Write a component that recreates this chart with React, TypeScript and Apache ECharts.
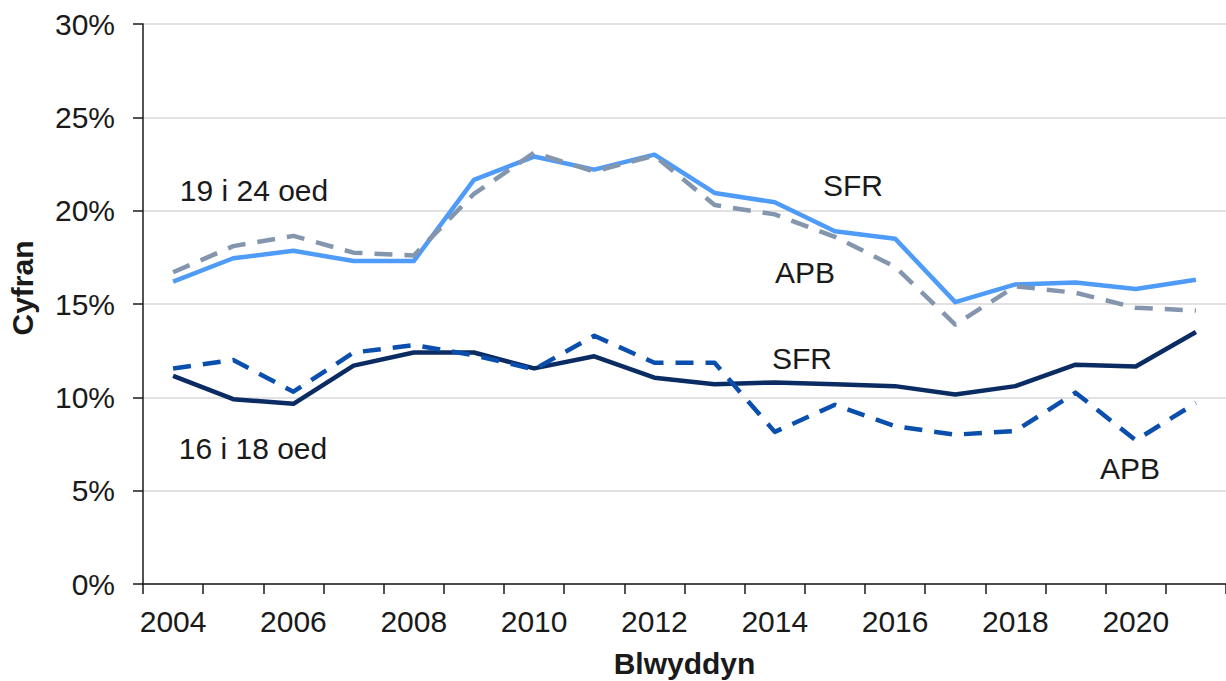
import React, { useEffect, useRef } from "react";
import * as echarts from "echarts";

const years = ["2004","2005","2006","2007","2008","2009","2010","2011","2012","2013","2014","2015","2016","2017","2018","2019","2020","2021"];
const sfr1924 = [16.2, 17.45, 17.85, 17.3, 17.3, 21.65, 22.9, 22.2, 23.0, 20.95, 20.45, 18.9, 18.5, 15.1, 16.05, 16.15, 15.8, 16.3];
const apb1924 = [16.7, 18.1, 18.65, 17.75, 17.6, 20.9, 23.1, 22.1, 22.95, 20.3, 19.8, 18.6, 17.0, 13.9, 15.95, 15.6, 14.8, 14.65];
const sfr1618 = [11.15, 9.9, 9.65, 11.7, 12.4, 12.4, 11.55, 12.2, 11.05, 10.7, 10.8, 10.7, 10.6, 10.15, 10.6, 11.75, 11.65, 13.5];
const apb1618 = [11.55, 12.0, 10.3, 12.4, 12.8, 12.25, 11.5, 13.3, 11.85, 11.85, 8.15, 9.6, 8.45, 8.0, 8.2, 10.25, 7.7, 9.7];

const annotations = [
  { text: "19 i 24 oed", x: 254, y: 190 },
  { text: "SFR", x: 853, y: 185 },
  { text: "APB", x: 805, y: 272 },
  { text: "SFR", x: 802, y: 358 },
  { text: "16 i 18 oed", x: 253, y: 448 },
  { text: "APB", x: 1130, y: 468 },
];

const FONT = "'Liberation Sans', Arial, sans-serif";
const TEXT = "#1a1a1a";

export default function App() {
  const ref = useRef<HTMLDivElement>(null);
  useEffect(() => {
    if (!ref.current) return;
    const chart = echarts.init(ref.current, null, { renderer: "svg" });
    const mkLine = (name: string, data: number[], color: string, dashed: boolean) => ({
      name,
      type: "line",
      data,
      symbol: "none",
      smooth: false,
      lineStyle: { color, width: 4.5, type: dashed ? [18, 12] : "solid", cap: "butt", join: "round" },
      itemStyle: { color },
    });
    chart.setOption({
      animation: false,
      backgroundColor: "#ffffff",
      textStyle: { fontFamily: FONT },
      grid: { left: 143, right: 0, top: 24, bottom: 97, containLabel: false, outerBoundsMode: "none" },
      xAxis: {
        type: "category",
        data: years,
        boundaryGap: true,
        name: "Blwyddyn",
        nameLocation: "middle",
        nameGap: 64,
        nameTextStyle: { fontSize: 30, fontWeight: "bold", color: TEXT, fontFamily: FONT },
        axisLine: { lineStyle: { color: TEXT, width: 1.5 } },
        axisTick: { show: true, interval: 0, length: 10, lineStyle: { color: TEXT, width: 1.5 } },
        axisLabel: { interval: 1, fontSize: 30, color: TEXT, margin: 22, fontFamily: FONT },
        splitLine: { show: false },
      },
      yAxis: {
        type: "value",
        min: 0,
        max: 30,
        interval: 5,
        name: "Cyfran",
        nameLocation: "middle",
        nameGap: 106,
        nameTextStyle: { fontSize: 30, fontWeight: "bold", color: TEXT, fontFamily: FONT, padding: [0, 0, 0, 32] },
        axisLine: { show: true, lineStyle: { color: TEXT, width: 1.5 } },
        axisTick: { show: true, length: 10, lineStyle: { color: TEXT, width: 1.5 } },
        axisLabel: { formatter: "{value}%", fontSize: 30, color: TEXT, margin: 28, fontFamily: FONT },
        splitLine: { show: true, lineStyle: { color: "#d9d9d9", width: 1.5 } },
      },
      series: [
        mkLine("SFR 16 i 18 oed", sfr1618, "#0b2b63", false),
        mkLine("APB 16 i 18 oed", apb1618, "#0b4fae", true),
        mkLine("SFR 19 i 24 oed", sfr1924, "#4e9bf8", false),
        mkLine("APB 19 i 24 oed", apb1924, "#8496ae", true),
      ],
      graphic: annotations.map((a) => ({
        type: "text",
        x: a.x,
        y: a.y,
        silent: true,
        style: {
          text: a.text,
          fontSize: 30,
          fontFamily: FONT,
          fill: TEXT,
          align: "center",
          verticalAlign: "middle",
          textAlign: "center",
          textVerticalAlign: "middle",
        },
      })),
    });
    return () => chart.dispose();
  }, []);
  return (
    <div
      ref={ref}
      style={{ position: "fixed", left: 0, top: 0, width: 1226, height: 681, background: "#fff" }}
    />
  );
}
